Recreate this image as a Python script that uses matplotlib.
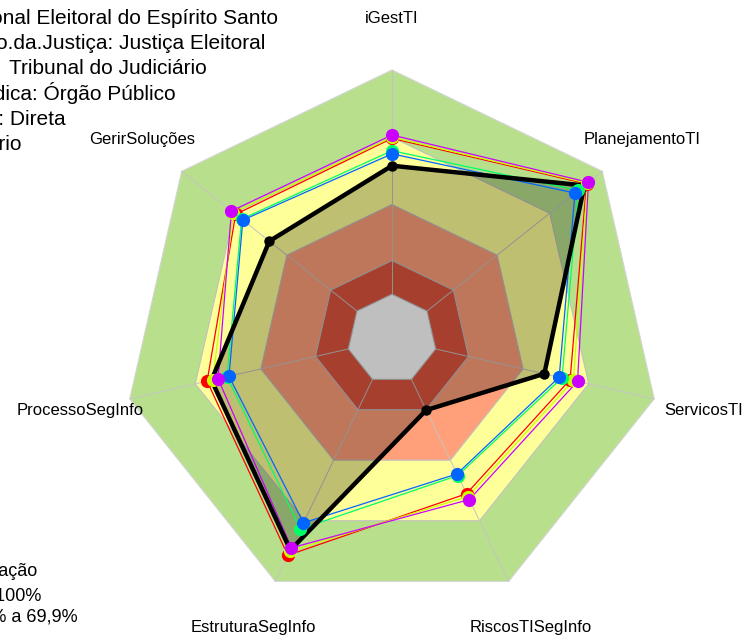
import numpy as np
import matplotlib.pyplot as plt
from matplotlib.patches import Polygon

plt.rcParams['font.family'] = ['Liberation Sans', 'DejaVu Sans']

# eixos do radar (sentido horario a partir do topo)
eixos = ['iGestTI', 'PlanejamentoTI', 'ServicosTI', 'RiscosTISegInfo',
         'EstruturaSegInfo', 'ProcessoSegInfo', 'GerirSoluções']

# valores (%)
orgao = [57.3, 89.8, 49.7, 15.2, 84.5, 62.6, 50.0]
serie_vermelha = [69.5, 91.0, 61.5, 56.6, 87.1, 64.6, 69.2]
serie_amarela = [70.0, 91.5, 63.0, 58.0, 85.0, 62.0, 70.5]
serie_verde = [64.0, 86.3, 57.8, 47.6, 74.1, 55.5, 65.8]
serie_azul = [62.6, 84.4, 56.5, 46.8, 71.0, 54.6, 65.1]
serie_magenta = [71.0, 92.1, 64.9, 59.5, 83.4, 59.6, 71.6]

series = [serie_vermelha, serie_amarela, serie_verde, serie_azul, serie_magenta]
cores_series = ['#ff0000', '#ccff00', '#00ff66', '#0066ff', '#cc00ff']

# faixas de classificacao
faixas = [100, 70, 40, 15, 0]
cores_faixas = ['#b8e08c', '#ffff99', '#ffa07a', '#e0553f', 'white']

titulo = ['Organização: Tribunal Regional Eleitoral do Espírito Santo',
          'Segmento.da.Justiça: Justiça Eleitoral',
          'Tipo.Organização: Tribunal do Judiciário',
          'Natureza.Jurídica: Órgão Público',
          'Administração: Direta',
          'Poder: Judiciário']
legenda = ['Classificação', 'Aprimorado: 70% a 100%', 'Intermediário: 40% a 69,9%']

n = len(eixos)
ang = np.pi / 2 - 2 * np.pi * np.arange(n) / n


def raio(v):
    return 1 / 6 + 5 / 6 * np.asarray(v, dtype=float) / 100


def xy(vals):
    r = raio(vals)
    x = r * np.cos(ang)
    y = r * np.sin(ang)
    return np.append(x, x[0]), np.append(y, y[0])


fig = plt.figure(figsize=(7.44, 6.41), dpi=100)
ax = fig.add_axes([0, 0, 1, 1])
ax.set_xlim(-392 / 269, 352 / 269)
ax.set_ylim(-302 / 269, 339 / 269)
ax.axis('off')

# faixas
for f, c in zip(faixas, cores_faixas):
    x, y = xy([f] * n)
    borda = '#d4d4d4' if f == 100 else '#c0c0c0'
    ax.add_patch(Polygon(np.column_stack([x, y]), closed=True, facecolor=c,
                         edgecolor=borda, lw=0.8, zorder=1))

# raios
for a in ang:
    r0, r1 = raio(0), raio(100)
    ax.plot([r0 * np.cos(a), r1 * np.cos(a)], [r0 * np.sin(a), r1 * np.sin(a)],
            color='#c4c4c4', lw=0.7, zorder=2)

# area do orgao
xo, yo = xy(orgao)
ax.fill(xo, yo, color='black', alpha=0.25, lw=0, zorder=3)

for s, c in zip(series, cores_series):
    x, y = xy(s)
    ax.plot(x, y, color=c, lw=0.9, zorder=4)

ax.plot(xo, yo, color='black', lw=3.2, zorder=5)
ax.plot(xo[:-1], yo[:-1], 'o', color='black', ms=6.5, zorder=6)

for s, c in zip(series, cores_series):
    x, y = xy(s)
    ax.plot(x[:-1], y[:-1], 'o', color=c, ms=8.5, zorder=7)

# rotulos dos eixos
for nome, a in zip(eixos, ang):
    r = 1.19
    ax.text(r * np.cos(a), r * np.sin(a), nome, ha='center', va='center',
            fontsize=12, zorder=8)

# texto do topo (cortado na borda esquerda)
fins = [278, 265, 207, 176, 66, 22]
for i, (t, xf) in enumerate(zip(titulo, fins)):
    if i == 2:
        # prefixo fica todo fora da figura, como no original
        pre, resto = t.split(': ')
        fig.text(xf / 744, 1 - (24 + 25.2 * i) / 641, resto, ha='right',
                 va='baseline', fontsize=15)
        fig.text(-0.005, 1 - (24 + 25.2 * i) / 641, pre + ':', ha='right',
                 va='baseline', fontsize=15)
        continue
    fig.text(xf / 744, 1 - (24 + 25.2 * i) / 641, t, ha='right', va='baseline',
             fontsize=15)

# legenda (cortada na borda esquerda)
fins_leg = [37, 41, 78]
ys_leg = [576, 601, 622]
for t, xf, yb in zip(legenda, fins_leg, ys_leg):
    fig.text(xf / 744, 1 - yb / 641, t, ha='right', va='baseline', fontsize=13)

fig.savefig('out.png', dpi=100)
